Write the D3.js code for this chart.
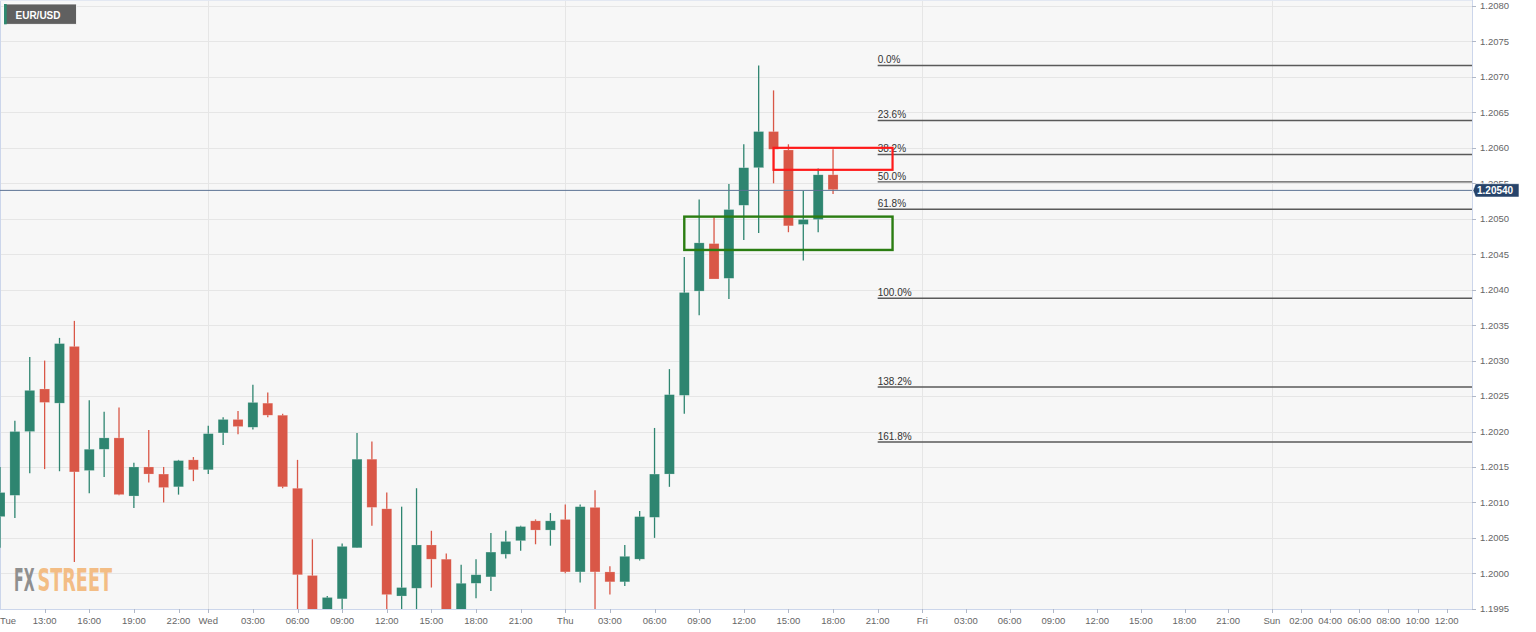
<!DOCTYPE html>
<html><head><meta charset="utf-8">
<script src="https://cdn.jsdelivr.net/npm/d3@7"></script>
<style>body{margin:0;background:#fff;} svg{display:block;font-family:"Liberation Sans",Arial,sans-serif;}</style>
</head><body><svg id="c" width="1536" height="632"></svg>
<script>
// Hourly candles, index = hours since Tue 10:00
const opens  = [1.2008,1.2011,1.2020,1.2026,1.2024,1.2032,1.20145,1.20175,1.20191,1.20109,1.2015,1.2014,1.20122,1.2016,1.20146,1.20198,1.20217,1.20206,1.2024,1.20223,1.2012,1.19997,1.1993,1.19964,1.20036,1.20161,1.20091,1.19968,1.19979,1.2004,1.2002,1.1992,1.19986,1.19995,1.20027,1.20046,1.20074,1.20061,1.20076,1.20002,1.20093,1.20002,1.19988,1.2002,1.20079,1.2014,1.20251,1.20398,1.20465,1.20416,1.20519,1.20572,1.20623,1.20597,1.20492,1.20499,1.20562];
const highs  = [1.2015,1.20215,1.20305,1.2030,1.20332,1.20356,1.20244,1.20228,1.20234,1.20156,1.20202,1.2015,1.2016,1.20164,1.20208,1.2022,1.20229,1.20266,1.20255,1.20225,1.2016,1.20048,1.19968,1.20042,1.20198,1.20186,1.20114,1.20094,1.2012,1.2006,1.20028,1.20012,1.2002,1.20057,1.2006,1.20067,1.20076,1.20085,1.20097,1.20097,1.20117,1.2001,1.2004,1.20088,1.20205,1.20288,1.20446,1.20527,1.20502,1.20549,1.20605,1.20716,1.20681,1.20605,1.20539,1.20571,1.20598];
const lows   = [1.20036,1.20078,1.20141,1.20147,1.20144,1.20016,1.20113,1.20136,1.2011,1.20092,1.20128,1.2010,1.20111,1.2013,1.2014,1.20181,1.20196,1.20203,1.2022,1.2012,1.1992,1.1990,1.1990,1.1993,1.20036,1.20067,1.1993,1.1993,1.1993,1.1998,1.1990,1.1990,1.19965,1.19975,1.20021,1.20032,1.20041,1.20039,1.2000,1.19987,1.1993,1.1997,1.19982,1.20018,1.2005,1.20122,1.20225,1.20364,1.20415,1.20387,1.2047,1.2048,1.2055,1.20481,1.20441,1.20481,1.20535];
const closes = [1.20114,1.2020,1.20258,1.20241,1.20324,1.20143,1.20175,1.20191,1.20111,1.2015,1.2014,1.20121,1.20159,1.20146,1.20197,1.20217,1.20207,1.20241,1.20223,1.20122,1.19998,1.1993,1.19966,1.20038,1.20161,1.20093,1.1997,1.1998,1.2004,1.2002,1.1992,1.19986,1.19998,1.2003,1.20045,1.20066,1.20061,1.20074,1.20002,1.20094,1.20002,1.19988,1.20024,1.2008,1.2014,1.20252,1.20396,1.20466,1.20415,1.20513,1.20572,1.20623,1.20598,1.2049,1.20499,1.20562,1.20541];

const xTickLabels = ["Tue","13:00","16:00","19:00","22:00","Wed","03:00","06:00","09:00","12:00","15:00","18:00","21:00","Thu","03:00","06:00","09:00","12:00","15:00","18:00","21:00","Fri","03:00","06:00","09:00","12:00","15:00","18:00","21:00","Sun","02:00","04:00","06:00","08:00","10:00","12:00"];
const xTickHours  = [0,3,6,9,12,14,17,20,23,26,29,32,35,38,41,44,47,50,53,56,59,62,65,68,71,74,77,80,83,86,88,90,92,94,96,98];
const dayBreakHours = [14,38,62,86];
const yTicks = [1.1995,1.2000,1.2005,1.2010,1.2015,1.2020,1.2025,1.2030,1.2035,1.2040,1.2045,1.2050,1.2055,1.2060,1.2065,1.2070,1.2075,1.2080];

const fibPercents = [0,23.6,38.2,50,61.8,100,138.2,161.8];
const fibLabels = ["0.0%","23.6%","38.2%","50.0%","61.8%","100.0%","138.2%","161.8%"];
const fibHigh = 1.20716, fibLow = 1.20388, fibStartHour = 59;
const lastPrice = 1.20540;
const redZone = [52, 60, 1.20600, 1.20569];
const greenZone = [46, 60, 1.20503, 1.20456];
const symbol = "EUR/USD";

const W = 1536, H = 632;
const plotL = 0, plotR = 1472, plotT = 0, plotB = 609;
const x = d3.scaleLinear().domain([0, 62, 98]).range([0, 922.3, 1446.7]);
const y = d3.scaleLinear().domain([1.1995, 1.2080]).range([608.8, 6]);

const svg = d3.select("#c");
svg.append("rect").attr("width", W).attr("height", H).attr("fill", "#fff");
svg.append("rect").attr("x", plotL).attr("y", plotT).attr("width", plotR - plotL).attr("height", plotB - plotT).attr("fill", "#f7f7f7");
svg.append("defs").append("clipPath").attr("id", "clip").append("rect")
  .attr("x", plotL).attr("y", plotT).attr("width", plotR - plotL).attr("height", plotB - plotT);

// grid
svg.append("g").selectAll("line").data(yTicks).join("line")
  .attr("x1", plotL).attr("x2", plotR)
  .attr("y1", d => Math.round(y(d)) + 0.5).attr("y2", d => Math.round(y(d)) + 0.5)
  .attr("stroke", "#e6e6e6").attr("stroke-width", 1);
svg.append("g").selectAll("line").data(dayBreakHours).join("line")
  .attr("x1", d => Math.round(x(d)) + 0.5).attr("x2", d => Math.round(x(d)) + 0.5)
  .attr("y1", plotT).attr("y2", plotB)
  .attr("stroke", "#e6e6e6").attr("stroke-width", 1);

// plot borders
svg.append("line").attr("x1", 0.5).attr("x2", 0.5).attr("y1", 0).attr("y2", plotB).attr("stroke", "#ccd6eb");
svg.append("line").attr("x1", 0).attr("x2", plotR).attr("y1", 0.5).attr("y2", 0.5).attr("stroke", "#e3e8f2");

// watermark (two adjacent words, horizontally condensed)
const wmFont = "'DejaVu Sans Condensed','DejaVu Sans',sans-serif";
svg.append("text").attr("transform", "translate(14,591) scale(0.55,1)")
  .attr("font-family", wmFont).attr("font-weight", "bold").attr("font-size", 32)
  .attr("textLength", 20.5 / 0.55).attr("lengthAdjust", "spacingAndGlyphs")
  .attr("fill", "#8f8f8f").text("FX");
svg.append("text").attr("transform", "translate(37.5,591) scale(0.62,1)")
  .attr("font-family", wmFont).attr("font-weight", "bold").attr("font-size", 32)
  .attr("textLength", 74.5 / 0.62).attr("lengthAdjust", "spacingAndGlyphs")
  .attr("fill", "#f3bd85").text("STREET");

// candles
const data = opens.map((o, i) => ({i, o, h: highs[i], l: lows[i], c: closes[i]}));
const gC = svg.append("g").attr("clip-path", "url(#clip)");
const up = "#2e8570", dn = "#d95747";
gC.selectAll("line.wick").data(data).join("line").attr("class", "wick")
  .attr("x1", d => x(d.i)).attr("x2", d => x(d.i))
  .attr("y1", d => y(d.h)).attr("y2", d => y(d.l))
  .attr("stroke", d => d.c >= d.o ? up : dn).attr("stroke-width", 1.3);
const bw = 10;
gC.selectAll("rect.body").data(data).join("rect").attr("class", "body")
  .attr("x", d => x(d.i) - bw / 2).attr("width", bw)
  .attr("y", d => y(Math.max(d.o, d.c)))
  .attr("height", d => Math.max(1.5, Math.abs(y(d.o) - y(d.c))))
  .attr("fill", d => d.c >= d.o ? up : dn)
  .attr("stroke", "rgba(255,255,255,0.35)").attr("stroke-width", 0.6);

// last price line
svg.append("line").attr("x1", plotL).attr("x2", plotR)
  .attr("y1", y(lastPrice)).attr("y2", y(lastPrice))
  .attr("stroke", "#5d7494").attr("stroke-width", 1);

// fib levels
const fibVal = p => fibHigh - p / 100 * (fibHigh - fibLow);
const gF = svg.append("g");
gF.selectAll("line").data(fibPercents).join("line")
  .attr("x1", x(fibStartHour)).attr("x2", plotR)
  .attr("y1", d => y(fibVal(d))).attr("y2", d => y(fibVal(d)))
  .attr("stroke", "#5a5a5a").attr("stroke-width", 1.4);
gF.selectAll("text").data(fibPercents).join("text")
  .attr("x", x(fibStartHour)).attr("y", d => y(fibVal(d)) - 2.3)
  .attr("font-size", 10).attr("fill", "#333")
  .text((d, i) => fibLabels[i]);

// zones
svg.append("rect")
  .attr("x", x(redZone[0])).attr("width", x(redZone[1]) - x(redZone[0]))
  .attr("y", y(redZone[2])).attr("height", y(redZone[3]) - y(redZone[2]))
  .attr("fill", "none").attr("stroke", "#ff1a1a").attr("stroke-width", 2.2);
svg.append("rect")
  .attr("x", x(greenZone[0])).attr("width", x(greenZone[1]) - x(greenZone[0]))
  .attr("y", y(greenZone[2])).attr("height", y(greenZone[3]) - y(greenZone[2]))
  .attr("fill", "none").attr("stroke", "#2b7d12").attr("stroke-width", 2.4);

// y axis
svg.append("line").attr("x1", plotR + 0.5).attr("x2", plotR + 0.5).attr("y1", 0).attr("y2", plotB)
  .attr("stroke", "#ccd6eb");
const gY = svg.append("g");
gY.selectAll("line").data(yTicks).join("line")
  .attr("x1", plotR).attr("x2", plotR + 4)
  .attr("y1", d => Math.round(y(d)) + 0.5).attr("y2", d => Math.round(y(d)) + 0.5)
  .attr("stroke", "#b0b8c8");
gY.selectAll("text").data(yTicks).join("text")
  .attr("x", plotR + 8).attr("y", d => y(d) + 3.4)
  .attr("font-size", 9.5).attr("fill", "#666")
  .text(d => d.toFixed(4));

// x axis
svg.append("line").attr("x1", 0).attr("x2", plotR).attr("y1", plotB + 0.5).attr("y2", plotB + 0.5)
  .attr("stroke", "#ccd6eb");
const gX = svg.append("g");
gX.selectAll("line").data(xTickHours.slice(1)).join("line")
  .attr("x1", d => Math.round(x(d)) + 0.5).attr("x2", d => Math.round(x(d)) + 0.5)
  .attr("y1", plotB).attr("y2", plotB + 4).attr("stroke", "#b0b8c8");
gX.selectAll("text").data(xTickHours).join("text")
  .attr("x", (d, i) => i === 0 ? 0 : x(d))
  .attr("y", 624)
  .attr("text-anchor", (d, i) => i === 0 ? "start" : "middle")
  .attr("font-size", 9.5).attr("fill", "#666")
  .text((d, i) => xTickLabels[i]);

// last price label (covers the 1.2055 tick label, as in the original)
const ly = y(lastPrice);
svg.append("path")
  .attr("d", `M${plotR + 1},${ly} L${plotR + 3.5},${ly - 6.7} L${plotR + 47},${ly - 6.7} L${plotR + 47},${ly + 6.7} L${plotR + 3.5},${ly + 6.7} Z`)
  .attr("fill", "#27446b").attr("stroke", "#fff").attr("stroke-width", 0.6);
svg.append("text").attr("x", plotR + 5).attr("y", ly + 3.6)
  .attr("font-size", 10).attr("font-weight", "bold").attr("fill", "#fff")
  .text(lastPrice.toFixed(5));

// symbol label
svg.append("rect").attr("x", 4).attr("y", 4).attr("width", 72.5).attr("height", 20.3)
  .attr("fill", "#606060").attr("stroke", "#fff").attr("stroke-width", 0.8);
svg.append("rect").attr("x", 4).attr("y", 4).attr("width", 2.7).attr("height", 20.3).attr("fill", "#2e8a70");
svg.append("text").attr("x", 15.5).attr("y", 19).attr("font-size", 10).attr("font-weight", "bold")
  .attr("fill", "#fff").text(symbol);
</script></body></html>
